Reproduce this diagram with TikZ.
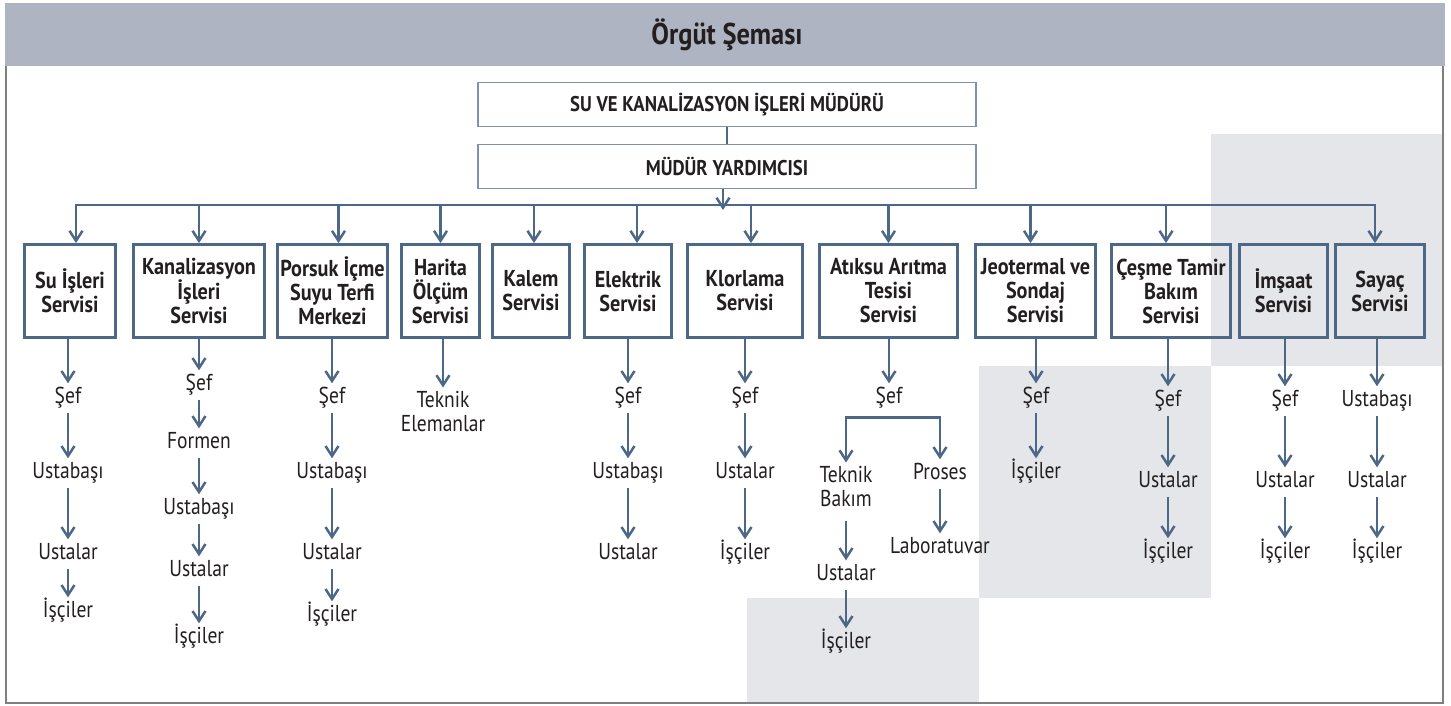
\documentclass[tikz,border=0pt]{standalone}
\usepackage{fontspec}
\setmainfont{PT Sans}[FakeStretch=0.85,BoldFeatures={FakeStretch=0.88}]
\usepackage{xcolor}
\usetikzlibrary{arrows.meta,positioning,calc}

\definecolor{hat}{HTML}{4C6886}
\definecolor{hatacik}{HTML}{7E93AA}
\definecolor{baslik}{HTML}{AEB4C2}
\definecolor{golge}{HTML}{E5E6EA}
\definecolor{cerceve}{HTML}{7F7F7F}
\definecolor{yazi}{HTML}{231F20}

\begin{document}
\begin{tikzpicture}[
  x=1pt, y=-1pt,
  svc/.style={draw=hat,line width=2.8pt,inner sep=0pt,minimum height=93pt,align=center,
    font=\bfseries\fontsize{23}{24}\selectfont,text=yazi},
  head/.style={draw=hatacik,line width=1.3pt,inner sep=0pt,minimum width=498pt,minimum height=44pt,
    font=\bfseries\fontsize{21.3}{24}\selectfont,text=yazi},
  lbl/.style={inner sep=3pt,align=center,font=\fontsize{23}{24}\selectfont,text=yazi},
  lvl/.style={lbl,text height=17pt,text depth=6pt},
  conn/.style={draw=hat,line width=2.5pt},
  arr/.style={conn,->},
  >={Straight Barb[length=10pt,width=13pt]}
]
\useasboundingbox (0,0) rectangle (1451,705);
% Shaded zones and frame
\fill[golge] (1211,134) rectangle (1443,366);
\fill[golge] (979,366) rectangle (1211,598);
\fill[golge] (747,598) rectangle (979,702);
\fill[baslik] (5,3) rectangle (1445,66);
\draw[cerceve,line width=2.5pt] (6,66) -- (6,703) -- (1443,703) -- (1443,66);
\node[font=\bfseries\fontsize{30}{32}\selectfont,text=yazi] (baslik) at (727,35) {Örgüt Şeması};
% Top: director and deputy
\node[head] (mudur) at (727,104.5) {SU VE KANALİZASYON İŞLERİ MÜDÜRÜ};
\node[head] (yard) at (727,166.5) {MÜDÜR YARDIMCISI};
\coordinate (bus) at (0,205);
% Row 1: services
\node[svc,minimum width=91pt] (su) at (70,291) {Su İşleri\\Servisi};
\node[svc,minimum width=131pt] (kanal) at (199,291) {Kanalizasyon\\İşleri\\Servisi};
\node[svc,minimum width=110pt] (porsuk) at (332.5,291) {Porsuk İçme\\Suyu Terfi\\Merkezi};
\node[svc,minimum width=78pt] (harita) at (440.5,291) {Harita\\Ölçüm\\Servisi};
\node[svc,minimum width=77pt] (kalem) at (531,291) {Kalem\\Servisi};
\node[svc,minimum width=87pt] (elektrik) at (628,291) {Elektrik\\Servisi};
\node[svc,minimum width=115pt] (klor) at (745,291) {Klorlama\\Servisi};
\node[svc,minimum width=138pt] (atiksu) at (888.5,291) {Atıksu Arıtma\\Tesisi\\Servisi};
\node[svc,minimum width=120pt] (jeo) at (1035.5,291) {Jeotermal ve\\Sondaj\\Servisi};
\node[svc,minimum width=119pt] (cesme) at (1171,291) {Çeşme Tamir\\Bakım\\Servisi};
\node[svc,minimum width=88pt] (imsaat) at (1283.5,291) {İmşaat\\Servisi};
\node[svc,minimum width=89pt] (sayac) at (1380,291) {Sayaç\\Servisi};
% Edges from the top
\draw[conn] (mudur) -- (yard);
\draw[arr,shorten >=-5pt] ([xshift=-4pt]yard.south) -- ([xshift=-4pt]yard.south |- bus);
\draw[arr,<->] ([xshift=6pt]su.north) -- ++(0,-38) -| ([xshift=-5pt]sayac.north);
\draw[arr] (kanal.north |- bus) -- (kanal.north); \draw[arr] ([xshift=6pt]porsuk.north |- bus) -- ([xshift=6pt]porsuk.north);
\draw[arr] (harita.north |- bus) -- (harita.north); \draw[arr] ([xshift=3pt]kalem.north |- bus) -- ([xshift=3pt]kalem.north);
\draw[arr] ([xshift=9pt]elektrik.north |- bus) -- ([xshift=9pt]elektrik.north); \draw[arr] ([xshift=6pt]klor.north |- bus) -- ([xshift=6pt]klor.north);
\draw[arr] (atiksu.north |- bus) -- (atiksu.north); \draw[arr] ([xshift=-5pt]jeo.north |- bus) -- ([xshift=-5pt]jeo.north);
\draw[arr] ([xshift=-5pt]cesme.north |- bus) -- ([xshift=-5pt]cesme.north);
% Row 2 and below: staff levels
\node[lvl] (su1) at (68,398) {Şef};
\node[lvl] (su2) at (68,473) {Ustabaşı};
\node[lvl] (su3) at (68,554) {Ustalar};
\node[lvl] (su4) at (68,612) {İşçiler};
\node[lvl] (k1) at (199,385) {Şef};
\node[lvl] (k2) at (199,443) {Formen};
\node[lvl] (k3) at (199,509) {Ustabaşı};
\node[lvl] (k4) at (199,571) {Ustalar};
\node[lvl] (k5) at (199,638) {İşçiler};
\node[lvl] (p1) at (332,398) {Şef};
\node[lvl] (p2) at (332,473) {Ustabaşı};
\node[lvl] (p3) at (332,554) {Ustalar};
\node[lvl] (p4) at (332,616) {İşçiler};
\node[lbl] (h1) at (443,411) {Teknik\\Elemanlar};
\node[lvl] (e1) at (628,398) {Şef};
\node[lvl] (e2) at (628,473) {Ustabaşı};
\node[lvl] (e3) at (628,554) {Ustalar};
\node[lvl] (c1) at (745,398) {Şef};
\node[lvl] (c2) at (745,473) {Ustalar};
\node[lvl] (c3) at (745,554) {İşçiler};
\node[lvl] (a1) at (889,398) {Şef};
\node[lbl] (a2) at (846,486) {Teknik\\Bakım};
\node[lvl] (a3) at (940,474) {Proses};
\node[lvl] (a4) at (846,575) {Ustalar};
\node[lvl] (a5) at (846,643) {İşçiler};
\node[lvl] (a6) at (940,548) {Laboratuvar};
\node[lvl] (j1) at (1036,398) {Şef};
\node[lvl] (j2) at (1036,473) {İşçiler};
\node[lvl] (s1) at (1168,401) {Şef};
\node[lvl] (s2) at (1168,482) {Ustalar};
\node[lvl] (s3) at (1168,553) {İşçiler};
\node[lvl] (m1) at (1285,401) {Şef};
\node[lvl] (m2) at (1285,482) {Ustalar};
\node[lvl] (m3) at (1285,553) {İşçiler};
\node[lvl] (y1) at (1377,401) {Ustabaşı};
\node[lvl] (y2) at (1377,482) {Ustalar};
\node[lvl] (y3) at (1377,553) {İşçiler};
% Edges (chains)
\draw[arr] (su.south -| su1) -- (su1); \draw[arr] (su1) -- (su2); \draw[arr] (su2) -- (su3); \draw[arr] (su3) -- (su4);
\draw[arr] (kanal.south -| k1) -- (k1); \draw[arr] (k1) -- (k2); \draw[arr] (k2) -- (k3); \draw[arr] (k3) -- (k4); \draw[arr] (k4) -- (k5);
\draw[arr] (porsuk.south -| p1) -- (p1); \draw[arr] (p1) -- (p2); \draw[arr] (p2) -- (p3); \draw[arr] (p3) -- (p4);
\draw[arr] (harita.south -| h1) -- (h1);
\draw[arr] (elektrik.south -| e1) -- (e1); \draw[arr] (e1) -- (e2); \draw[arr] (e2) -- (e3);
\draw[arr] (klor.south -| c1) -- (c1); \draw[arr] (c1) -- (c2); \draw[arr] (c2) -- (c3);
\draw[arr] (atiksu.south -| a1) -- (a1);
\draw[arr] ([yshift=-5pt]a1.south) -| (a2); \draw[arr] ([yshift=-5pt]a1.south) -| (a3);
\draw[arr,shorten <=12pt] (a2) -- (a4); \draw[arr] (a4) -- (a5); \draw[arr] (a3) -- (a6);
\draw[arr] (jeo.south -| j1) -- (j1); \draw[arr] (j1) -- (j2);
\draw[arr] (cesme.south -| s1) -- (s1); \draw[arr] (s1) -- (s2); \draw[arr] (s2) -- (s3);
\draw[arr] (imsaat.south -| m1) -- (m1); \draw[arr] (m1) -- (m2); \draw[arr] (m2) -- (m3);
\draw[arr] (sayac.south -| y1) -- (y1); \draw[arr] (y1) -- (y2); \draw[arr] (y2) -- (y3);
\end{tikzpicture}
\end{document}
